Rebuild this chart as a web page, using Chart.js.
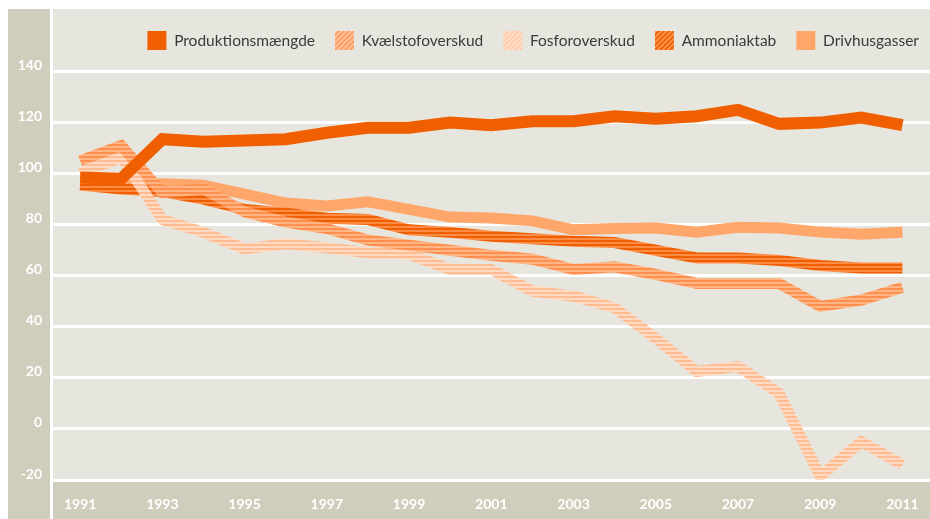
<!DOCTYPE html>
<html>
<head>
<meta charset="utf-8">
<script src="https://cdn.jsdelivr.net/npm/chart.js@4.4.1/dist/chart.umd.min.js"></script>
<style>
  html, body { margin: 0; padding: 0; background: #ffffff; }
  #wrap { width: 930px; height: 519px; }
</style>
</head>
<body>
<div id="wrap"><canvas id="grafica"></canvas></div>
<script>
// years and tick labels
var years = [1991, 1992, 1993, 1994, 1995, 1996, 1997, 1998, 1999, 2000, 2001,
             2002, 2003, 2004, 2005, 2006, 2007, 2008, 2009, 2010, 2011];
var xTicks = [1991, 1993, 1995, 1997, 1999, 2001, 2003, 2005, 2007, 2009, 2011];
var yTicks = [-20, 0, 20, 40, 60, 80, 100, 120, 140];

// index values, 1991 = ~100
var produktion = [98.5, 98, 113.5, 112.5, 113, 113.5, 116, 118, 118, 120, 119,
                  120.5, 120.5, 122.5, 121.5, 122.5, 125, 119.5, 120, 122, 119];
var kvaelstof = [105, 111, 92.5, 94, 85, 81, 78.5, 74, 72, 70, 68,
                 66.5, 62.5, 63.5, 60.5, 57, 57, 57, 48, 50.5, 55.5];
var fosfor = [100, 106.5, 82, 77, 70.5, 72.5, 71, 69, 68.5, 62.5, 62.5,
              54, 52, 47.5, 35.5, 22.5, 24.5, 14, -18.5, -5, -14];
var ammoniak = [95.5, 94, 93, 90, 86, 84.5, 82.5, 82, 78, 77, 75.5,
                74.5, 73.5, 73, 70, 67, 67, 66, 64, 63, 63];
var drivhus = [96, 95.5, 96, 95.5, 92, 88.5, 87.3, 89, 86, 83, 82.6,
               81.5, 78, 78.5, 78.7, 77.1, 79, 78.7, 77.1, 76.3, 77];

var colores = {
  fondo: '#e7e6de',
  panel: '#cfcdbc',
  produktion: '#ef5f00',
  drivhus: '#ffa66b'
};

// horizontal stripes for the lines
function rayas(c1, c2) {
  var cv = document.createElement('canvas');
  cv.width = 4; cv.height = 4;
  var g = cv.getContext('2d');
  g.fillStyle = c2; g.fillRect(0, 0, 4, 4);
  g.fillStyle = c1; g.fillRect(0, 0, 4, 2);
  return g.createPattern(cv, 'repeat');
}

// diagonal stripes for the legend boxes
function diagonal(c1, c2) {
  var cv = document.createElement('canvas');
  cv.width = 5; cv.height = 5;
  var g = cv.getContext('2d');
  g.fillStyle = c2; g.fillRect(0, 0, 5, 5);
  g.strokeStyle = c1; g.lineWidth = 1.6;
  g.beginPath();
  g.moveTo(-1, 6); g.lineTo(6, -1);
  g.moveTo(-1, 1); g.lineTo(1, -1);
  g.moveTo(4, 6); g.lineTo(6, 4);
  g.stroke();
  return g.createPattern(cv, 'repeat');
}

function serie(valores) {
  return years.map(function (y, i) { return { x: y, y: valores[i] }; });
}

var fondoPlugin = {
  id: 'fondo',
  afterLayout: function (chart) {
    // legend takes no room (maxHeight 1) but still needs a big enough clip box
    var lg = chart.legend;
    lg.top += 2;
    lg.height = 60;
    lg.bottom = lg.top + 60;
    lg.left += 9;
    lg.right += 9;
  },
  beforeDraw: function (chart) {
    var ctx = chart.ctx, a = chart.chartArea, sy = chart.scales.y, sx = chart.scales.x;
    var top = a.top - 1;
    ctx.save();
    ctx.fillStyle = colores.fondo;
    ctx.fillRect(a.left, top, a.right - a.left, a.bottom - top);
    ctx.fillStyle = colores.panel;
    ctx.fillRect(sy.left, top, a.left - 3 - sy.left, chart.height - top);
    ctx.fillRect(a.left, a.bottom, a.right - a.left, sx.bottom - a.bottom);
    ctx.restore();
  }
};

function linea(label, data, borde, caja, ancho) {
  return {
    label: label,
    data: serie(data),
    borderColor: borde,
    backgroundColor: caja,
    borderWidth: ancho,
    pointRadius: 0,
    pointHoverRadius: 0,
    tension: 0,
    fill: false,
    borderJoinStyle: 'miter',
    borderCapStyle: 'butt'
  };
}

new Chart(document.getElementById('grafica'), {
  type: 'line',
  data: {
    datasets: [
      linea('Produktionsmængde', produktion, colores.produktion, colores.produktion, 12),
      linea('Kvælstofoverskud', kvaelstof, rayas('#ff8f4f', '#ffb584'), diagonal('#ff9a5e', '#ffc39c'), 11),
      linea('Fosforoverskud', fosfor, rayas('#ffbc92', '#ffdac2'), diagonal('#ffc8a6', '#ffe0cc'), 11),
      linea('Ammoniaktab', ammoniak, rayas('#ef5f00', '#ff8c45'), diagonal('#ef5f00', '#ff9350'), 11),
      linea('Drivhusgasser', drivhus, colores.drivhus, colores.drivhus, 11)
    ]
  },
  options: {
    responsive: true,
    maintainAspectRatio: false,
    animation: false,
    layout: { padding: { top: 9, left: 8, right: 0, bottom: 0 } },
    plugins: {
      tooltip: { enabled: false },
      legend: {
        display: true,
        position: 'top',
        align: 'end',
        maxHeight: 1,
        labels: {
          boxWidth: 19,
          boxHeight: 19,
          padding: 20,
          color: '#3a3a3a',
          font: { family: 'Lato', size: 15.5 },
          generateLabels: function (chart) {
            var items = Chart.defaults.plugins.legend.labels.generateLabels(chart);
            items.forEach(function (it) { it.lineWidth = 0; it.strokeStyle = 'rgba(0,0,0,0)'; });
            return items;
          }
        }
      }
    },
    scales: {
      x: {
        type: 'linear',
        min: 1990.34,
        max: 2011.67,
        afterBuildTicks: function (axis) {
          axis.ticks = xTicks.map(function (v) { return { value: v }; });
        },
        afterFit: function (axis) {
          axis.height = 39;
          axis.paddingLeft = 0;
          axis.paddingRight = 0;
        },
        grid: { display: false, drawTicks: false },
        border: { display: false },
        ticks: {
          color: '#ffffff',
          padding: 16,
          maxRotation: 0,
          autoSkip: false,
          font: { family: 'Lato', size: 14, weight: 'bold' },
          callback: function (v) { return String(v); }
        }
      },
      y: {
        min: -20,
        max: 164.1,
        afterBuildTicks: function (axis) {
          axis.ticks = yTicks.map(function (v) { return { value: v }; });
        },
        afterFit: function (axis) {
          axis.width = 45;
          axis.paddingTop = 0;
          axis.paddingBottom = 0;
        },
        grid: { color: '#ffffff', lineWidth: 3, drawTicks: false },
        border: { display: false },
        ticks: {
          color: '#ffffff',
          padding: 11,
          labelOffset: -6,
          font: { family: 'Lato', size: 14, weight: 'bold' }
        }
      }
    }
  },
  plugins: [fondoPlugin]
});
</script>
</body>
</html>
